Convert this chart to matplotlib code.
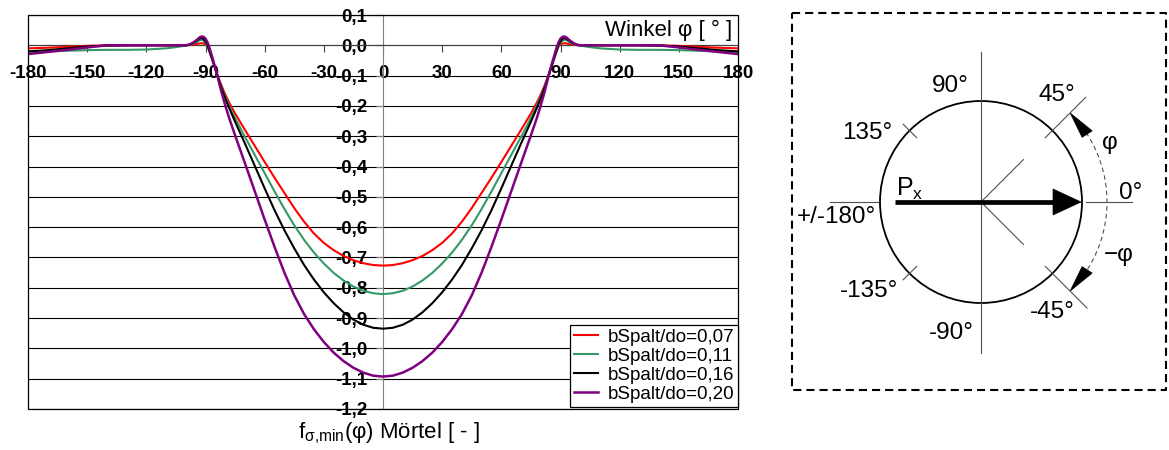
import numpy as np
import matplotlib
matplotlib.use("Agg")
import matplotlib.pyplot as plt
from matplotlib.patches import Circle, Rectangle, Arc, Polygon

plt.rcParams['font.family'] = ['Liberation Sans', 'DejaVu Sans']
plt.rcParams['mathtext.fontset'] = 'custom'
plt.rcParams['mathtext.rm'] = 'Liberation Sans'
plt.rcParams['mathtext.it'] = 'Liberation Sans:italic'
plt.rcParams['mathtext.bf'] = 'Liberation Sans:bold'

# Angle phi in degrees for one half (0..180); the curves are symmetric in phi
winkel_half = [0, 5, 10, 15, 20, 25, 30, 35, 40, 45, 50, 55, 60, 65, 70, 75,
               78, 80, 82, 84, 86, 88, 89, 90, 91, 92, 93, 94, 96, 98, 100,
               105, 110, 120, 130, 140, 150, 160, 170, 180]

f_007 = [-0.727, -0.725, -0.719, -0.709, -0.695, -0.676, -0.652, -0.621, -0.582,
         -0.537, -0.487, -0.437, -0.385, -0.332, -0.279, -0.225,
         -0.189, -0.162, -0.131, -0.096, -0.058, -0.020, -0.004, 0.003, 0.006,
         0.007, 0.006, 0.005, 0.002, 0.001, 0.0,
         0.0, 0.0, 0.0, 0.0, 0.0, -0.002, -0.005, -0.008, -0.010]
f_011 = [-0.821, -0.818, -0.810, -0.796, -0.776, -0.751, -0.720, -0.684, -0.642,
         -0.594, -0.540, -0.482, -0.422, -0.362, -0.302, -0.240,
         -0.200, -0.170, -0.136, -0.098, -0.058, -0.020, -0.002, 0.008, 0.015,
         0.018, 0.017, 0.013, 0.006, 0.001, -0.001,
         -0.006, -0.010, -0.014, -0.015, -0.015, -0.016, -0.018, -0.020, -0.022]
f_016 = [-0.935, -0.932, -0.922, -0.905, -0.881, -0.851, -0.815, -0.773, -0.725,
         -0.670, -0.610, -0.544, -0.472, -0.398, -0.324, -0.252,
         -0.207, -0.175, -0.140, -0.100, -0.058, -0.018, 0.002, 0.013, 0.021,
         0.024, 0.022, 0.017, 0.008, 0.002, 0.0,
         0.0, 0.0, 0.0, 0.0, -0.001, -0.004, -0.010, -0.016, -0.020]
f_020 = [-1.093, -1.090, -1.080, -1.064, -1.042, -1.014, -0.979, -0.937, -0.887,
         -0.825, -0.750, -0.665, -0.575, -0.482, -0.389, -0.297,
         -0.240, -0.198, -0.152, -0.100, -0.052, -0.008, 0.010, 0.022, 0.028,
         0.029, 0.026, 0.020, 0.010, 0.003, 0.0,
         0.0, 0.0, 0.0, 0.0, 0.0, -0.007, -0.015, -0.022, -0.029]

series_labels = ["bSpalt/do=0,07", "bSpalt/do=0,11", "bSpalt/do=0,16", "bSpalt/do=0,20"]
series_values = [f_007, f_011, f_016, f_020]
series_colors = ["#FF0000", "#339966", "#000000", "#800080"]
series_widths = [1.5, 1.5, 1.5, 1.8]

x_ticks = [-180, -150, -120, -90, -60, -30, 0, 30, 60, 90, 120, 150, 180]
y_ticks = [0.1, 0.0, -0.1, -0.2, -0.3, -0.4, -0.5, -0.6, -0.7, -0.8, -0.9,
           -1.0, -1.1, -1.2]


def mirrored(half):
    half = np.asarray(half, dtype=float)
    return np.concatenate([half[:0:-1], half])


phi = np.concatenate([-np.asarray(winkel_half[:0:-1], dtype=float),
                      np.asarray(winkel_half, dtype=float)])

W, H = 1169, 450
fig = plt.figure(figsize=(W / 100, H / 100), dpi=100)

# ---- chart -------------------------------------------------------------
ax = fig.add_axes([28 / W, 41 / H, 710 / W, 394 / H])
ax.set_xlim(-180, 180)
ax.set_ylim(-1.2, 0.1)

for vals, lab, col, lw in zip(series_values, series_labels, series_colors, series_widths):
    ax.plot(phi, mirrored(vals), color=col, lw=lw, label=lab, zorder=3,
            solid_joinstyle='round')

for v in y_ticks:
    ax.axhline(v, color='black', lw=0.8, zorder=1)

ax.spines['left'].set_position(('data', 0))
ax.spines['bottom'].set_position(('data', 0))
ax.spines['left'].set_color('#808080')
ax.spines['bottom'].set_color('#404040')
ax.spines['left'].set_zorder(2)
ax.spines['bottom'].set_zorder(2)
for s in ('top', 'right'):
    ax.spines[s].set_visible(False)
ax.add_patch(Rectangle((0, 0), 1, 1, transform=ax.transAxes, fill=False,
                       ec='black', lw=0.9, clip_on=False, zorder=4))

ax.set_xticks(x_ticks)
ax.set_xticklabels([str(v) for v in x_ticks], fontweight='bold', fontsize=13.5)
ax.set_yticks(y_ticks)
ax.set_yticklabels([f"{v:.1f}".replace('.', ',').replace('-0,0', '0,0') for v in y_ticks],
                   fontweight='bold', fontsize=13.5)
ax.tick_params(axis='x', direction='out', length=5, width=0.8, color='#404040', pad=9)
ax.tick_params(axis='y', direction='out', length=5, width=0.8, color='#808080', pad=6)

ax.text(1 - 6 / 710, 1 - 5 / 394, "Winkel φ [ ° ]", transform=ax.transAxes,
        ha='right', va='top', fontsize=16)

leg = ax.legend(loc='lower right', bbox_to_anchor=(1.0, 0.006), fontsize=13.5,
                frameon=True, fancybox=False, edgecolor='black', framealpha=1,
                handlelength=1.3, handletextpad=0.5, labelspacing=0.1,
                borderpad=0.2, borderaxespad=0)
leg.get_frame().set_linewidth(0.9)
leg.set_zorder(5)

fig.text(389 / W, 1 - 433 / H, r"f$_{\mathregular{σ{,}min}}$(φ) Mörtel [ - ]",
         ha='center', va='center', fontsize=16)

# ---- angle sketch -----------------------------------------------------
ax2 = fig.add_axes([780 / W, 0, 389 / W, 1])
ax2.set_xlim(780, 1169)
ax2.set_ylim(450, 0)
ax2.axis('off')

cx, cy, R = 981, 202, 101


def pt(r, deg):
    a = np.deg2rad(deg)
    return cx + r * np.cos(a), cy - r * np.sin(a)


# dashed frame
x0, x1, y0, y1 = 792, 1166, 13, 390
ax2.plot([x0, x1, x1, x0, x0], [y0, y0, y1, y1, y0], color='black', lw=1.5,
         dashes=(3.9, 2.4), solid_capstyle='butt', dash_capstyle='butt')

ax2.add_patch(Circle((cx, cy), R, fill=False, ec='black', lw=1.3))

thin = dict(color='#505050', lw=0.8)
ax2.plot([cx, cx], [52, 353], **thin)
ax2.plot([830, 878], [cy, cy], **thin)
ax2.plot([1086, 1132], [cy, cy], **thin)
for d in (45, -45):
    p = pt(60, d)
    ax2.plot([cx, p[0]], [cy, p[1]], **thin)
for d, r0, r1 in ((135, 91, 110), (-135, 91, 110), (45, 91, 148), (-45, 91, 150)):
    a, b = pt(r0, d), pt(r1, d)
    ax2.plot([a[0], b[0]], [a[1], b[1]], **thin)

# force arrow
ax2.plot([895, 1056], [cy, cy], color='black', lw=3.4, solid_capstyle='butt')
ax2.add_patch(Polygon([(1053, cy - 13), (1081, cy), (1053, cy + 13)],
                      closed=True, fc='black', ec='black', lw=0.5))

# dashed angle arc with arrowheads
ra = 126
ax2.add_patch(Arc((cx, cy), 2 * ra, 2 * ra, theta1=-37, theta2=37,
                  color='#505050', lw=0.8, ls=(0, (4, 3))))
for sgn in (1, -1):
    tip = pt(ra, 45 * sgn)
    base = pt(ra, 32.6 * sgn)
    a = np.deg2rad(32.6 * sgn)
    u = np.array([np.cos(a), -np.sin(a)])
    p1 = np.array(base) + 6 * u
    p2 = np.array(base) - 6 * u
    ax2.add_patch(Polygon([tip, p1, p2], closed=True, fc='black', ec='black', lw=0.5))

fs = 17.5
labels = [("90°", 950, 86), ("45°", 1057, 95), ("135°", 867, 133),
          ("0°", 1131, 193), ("+/-180°", 836, 217), ("-135°", 869, 291),
          ("-45°", 1052, 312), ("-90°", 951, 333)]
for txt, x, y in labels:
    ax2.text(x, y, txt, ha='center', va='center', fontsize=fs)
ax2.text(1110, 143, "φ", ha='center', va='center', fontsize=fs)
ax2.text(1119, 255, "−φ", ha='center', va='center', fontsize=fs)
ax2.text(896, 196, r"P$_{\mathregular{x}}$", ha='left', va='baseline', fontsize=18)

fig.savefig("out.png", dpi=100)
